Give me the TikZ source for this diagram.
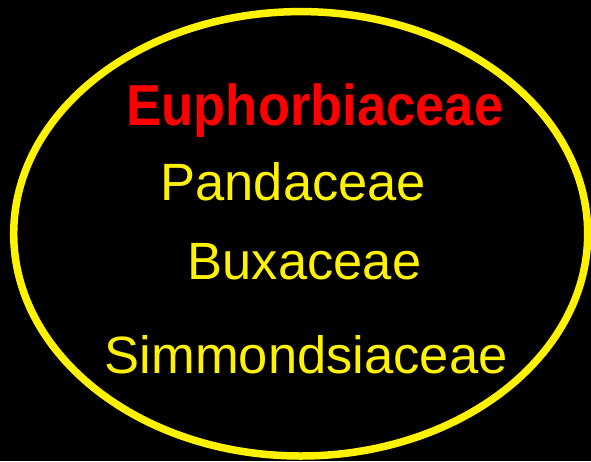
\documentclass[tikz,border=0pt]{standalone}
\usepackage{fontspec}
\setmainfont{Liberation Sans}
\begin{document}
\begin{tikzpicture}[x=1pt,y=-1pt,
  lbl/.style={anchor=base, inner sep=0pt, font=\fontsize{52.5}{60}\selectfont, text=yellow},
  head/.style={lbl, text=red, font=\fontsize{52.5}{60}\selectfont\bfseries}]
\fill[black] (0,0) rectangle (591,461);
\useasboundingbox (0,0) rectangle (591,461);
\draw[yellow, line width=7.5pt] (300.7,233.8) ellipse [x radius=287, y radius=222.2];
\node[head] (euph) at (315,125) {\scalebox{1}[1.1]{Euphorbiaceae}};
\node[lbl] (pand) at (293.4,200.7) {Pandaceae};
\node[lbl] (bux) at (304.5,279.3) {Buxaceae};
\node[lbl] (simm) at (306.2,373.3) {Simmondsiaceae};
\end{tikzpicture}
\end{document}
